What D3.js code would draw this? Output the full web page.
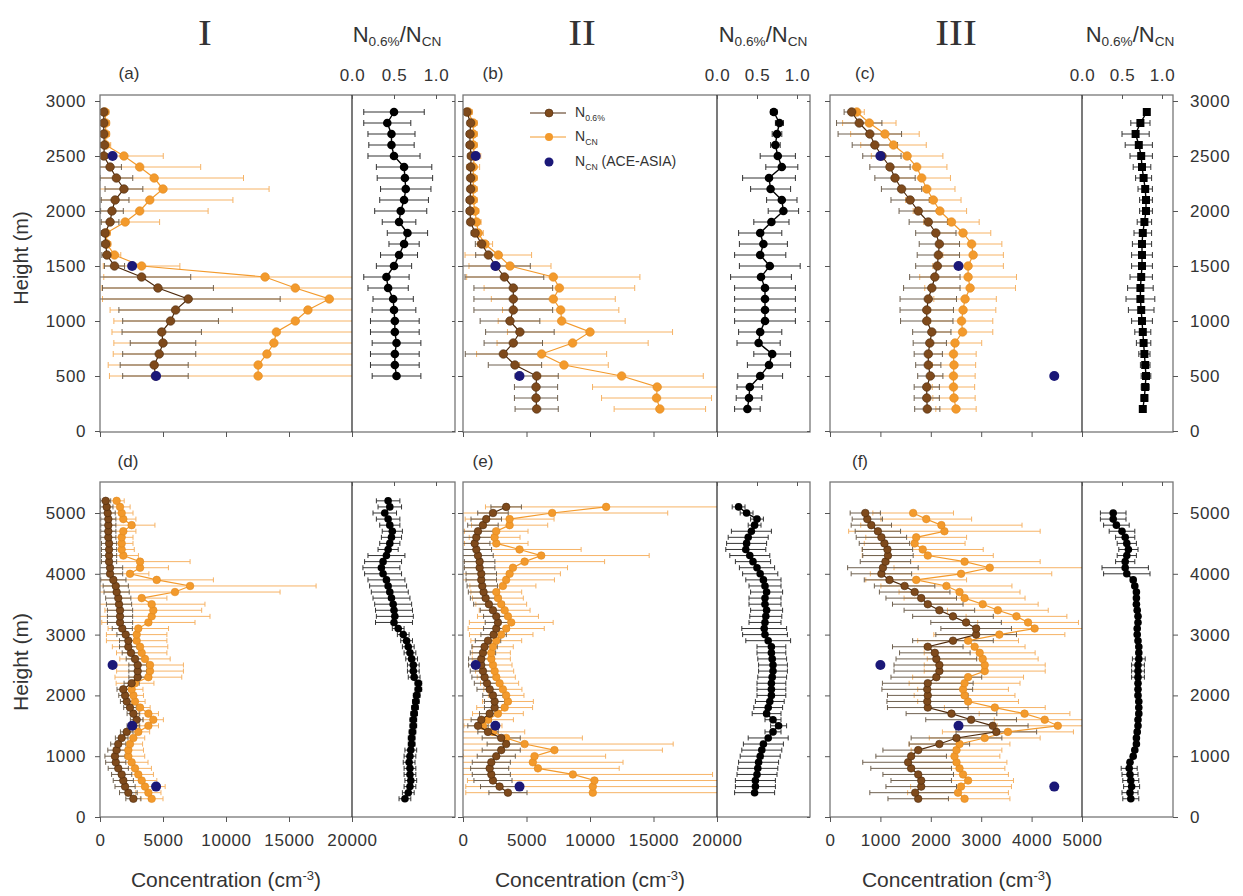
<!DOCTYPE html>
<html>
<head>
<meta charset="utf-8">
<script src="https://cdn.jsdelivr.net/npm/d3@7"></script>
<style>
body { margin: 0; background: #fff; }
svg text { font-family: "Liberation Sans", Arial, sans-serif; fill: #333; }
.tick text { font-size: 17px; letter-spacing: 0.6px; fill: #333; }
</style>
</head>
<body>
<div id="chart"></div>
<script>
// ---- datos (de abajo hacia arriba) ----
// ACE-ASIA (igual en todos los paneles)
const aceHeight = [500, 1500, 2500]
const aceNcn = [4450, 2550, 1000]

// (a)
const aHeight = [500,600,700,800,900,1000,1100,1200,1300,1400,1500,1600,1700,1800,1900,2000,2100,2200,2300,2400,2500,2600,2700,2800,2900]
const aN06 = [4400,4300,4700,5000,4900,5600,6000,7000,4600,3300,1150,550,450,400,800,950,1200,1900,1300,800,300,350,300,300,300]
const aN06Err = [2600,2700,2900,2600,3150,3800,4500,7300,4400,3900,800,400,300,300,700,900,1100,1500,1300,900,300,300,250,250,250]
const aNcn = [12550,12550,13250,13800,14000,15500,16500,18200,15500,13100,3300,1150,550,500,2000,3150,3950,5000,4300,3150,1900,450,450,450,400]
const aNcnErr = [11800,11900,12200,12700,13050,14400,15700,18000,15350,12800,3040,500,300,300,2730,5430,6600,8420,7090,4840,3120,400,300,300,300]
const aRatio = [0.53,0.51,0.51,0.53,0.51,0.51,0.50,0.49,0.43,0.41,0.50,0.56,0.62,0.66,0.56,0.58,0.62,0.64,0.63,0.62,0.50,0.47,0.47,0.42,0.50]
const aRatioErr = [0.29,0.29,0.29,0.29,0.29,0.29,0.26,0.24,0.24,0.27,0.21,0.22,0.18,0.24,0.20,0.31,0.29,0.30,0.33,0.33,0.31,0.27,0.28,0.28,0.36]

// (b)
const bHeight = [200,300,400,500,600,700,800,900,1000,1100,1200,1300,1400,1500,1600,1700,1800,1900,2000,2100,2200,2300,2400,2500,2600,2700,2800,2900]
const bN06 = [5800,5750,5750,5800,4090,3180,3960,4480,3700,3960,3960,3960,3260,2600,2000,1470,950,600,550,550,600,600,600,650,550,550,600,300]
const bN06Err = [1700,1700,1700,1700,2100,3000,2300,2700,2350,3100,3100,3100,3100,2700,1000,500,300,250,250,250,250,250,250,250,250,250,250,250]
const bNcn = [15500,15240,15290,12490,7950,6190,8630,10000,7770,7690,7110,7590,7110,3700,2780,1730,1200,1070,940,810,810,810,810,900,810,810,810,420]
const bNcnErr = [3600,4330,5090,6430,3490,5120,5950,6500,5000,4580,4880,5930,6820,3230,2620,600,400,350,300,300,300,300,500,500,300,300,300,300]
const bRatio = [0.38,0.40,0.41,0.54,0.65,0.69,0.52,0.54,0.60,0.60,0.60,0.60,0.55,0.66,0.54,0.58,0.54,0.68,0.83,0.81,0.67,0.65,0.81,0.76,0.73,0.75,0.78,0.71]
const bRatioErr = [0.16,0.16,0.16,0.28,0.27,0.23,0.27,0.27,0.38,0.38,0.38,0.38,0.38,0.38,0.32,0.30,0.27,0.22,0.19,0.19,0.25,0.33,0.20,0.22,0.06,0.06,0.05,0.04]

// (c)
const cHeight = [200,300,400,500,600,700,800,900,1000,1100,1200,1300,1400,1500,1600,1700,1800,1900,2000,2100,2200,2300,2400,2500,2600,2700,2800,2900]
const cN06 = [1930,1920,1920,1990,1950,1950,1980,2020,1920,1920,1950,2020,2080,2130,2150,2170,2100,1950,1750,1590,1420,1290,1190,1030,890,790,580,430]
const cN06Err = [250,250,250,250,250,280,330,380,520,530,560,560,500,430,420,400,400,380,380,380,400,400,400,380,450,630,450,150]
const cNcn = [2500,2460,2450,2450,2460,2450,2480,2630,2610,2640,2680,2780,2740,2740,2840,2810,2640,2410,2180,2050,1920,1820,1720,1530,1260,1090,780,530]
const cNcnErr = [400,420,420,430,430,450,530,600,620,650,620,900,960,700,600,600,550,550,530,550,560,570,600,710,650,680,530,150]
const cRatio = [0.76,0.78,0.79,0.80,0.79,0.78,0.77,0.76,0.75,0.74,0.73,0.73,0.74,0.75,0.75,0.75,0.76,0.78,0.80,0.80,0.79,0.77,0.75,0.74,0.71,0.67,0.73,0.81]
const cRatioErr = [0.03,0.04,0.05,0.06,0.06,0.07,0.09,0.10,0.13,0.16,0.18,0.16,0.14,0.13,0.13,0.12,0.11,0.09,0.08,0.08,0.09,0.10,0.11,0.14,0.17,0.17,0.12,0.02]

// (d)
const dHeight = [300,400,500,600,700,800,900,1000,1100,1200,1300,1400,1500,1600,1700,1800,1900,2000,2100,2200,2300,2400,2500,2600,2700,2800,2900,3000,3100,3200,3300,3400,3500,3600,3700,3800,3900,4000,4100,4200,4300,4400,4500,4600,4700,4800,4900,5000,5100,5200]
const dN06 = [2650,2250,1990,1850,1720,1450,1250,1190,1320,1450,1720,2120,2650,2910,2650,2380,2120,1990,1850,2510,2990,2990,2990,2780,2460,2250,2250,2040,1770,1590,1590,1590,1510,1450,1320,1250,1060,800,800,720,720,720,720,660,660,660,660,610,530,450]
const dN06Err = [600,700,800,800,800,800,800,800,700,600,500,500,500,500,500,500,500,500,500,600,700,700,700,700,700,700,700,700,800,1000,1000,1000,1000,1000,1000,1000,1000,1000,1000,600,600,600,600,600,600,600,600,600,500,400]
const dNcn = [4100,3840,3570,3310,3040,2780,2510,2250,2250,2380,2650,3040,3840,4230,3840,3180,2780,2650,2510,2780,3840,3970,3970,3570,3310,3180,2910,2910,3040,3840,4100,4230,4100,3310,5950,7150,4500,2380,3180,3180,1850,1720,1720,1720,1850,2510,1850,1720,1590,1320]
const dNcnErr = [900,1000,1600,1200,1200,1300,1300,1300,1200,1000,900,900,800,800,800,800,800,800,900,1500,2650,2650,2650,2000,2000,2200,2400,2400,2400,3700,4630,3840,4230,2000,8340,10000,4500,1500,2250,3970,1200,1000,900,900,1000,1850,1000,900,800,600]
const dRatio = [0.63,0.67,0.69,0.70,0.69,0.69,0.68,0.69,0.70,0.71,0.71,0.72,0.73,0.73,0.74,0.75,0.76,0.77,0.79,0.79,0.74,0.73,0.73,0.71,0.69,0.67,0.65,0.61,0.55,0.50,0.51,0.50,0.49,0.47,0.45,0.43,0.41,0.37,0.35,0.37,0.41,0.43,0.45,0.47,0.48,0.45,0.43,0.39,0.45,0.43]
const dRatioErr = [0.07,0.07,0.07,0.07,0.07,0.07,0.07,0.07,0.07,0.04,0.04,0.04,0.04,0.04,0.04,0.04,0.04,0.04,0.04,0.04,0.07,0.07,0.07,0.07,0.07,0.07,0.07,0.07,0.07,0.22,0.22,0.22,0.22,0.22,0.22,0.22,0.22,0.22,0.22,0.22,0.22,0.12,0.12,0.12,0.12,0.12,0.14,0.14,0.14,0.14]

// (e)
const eHeight = [400,500,600,700,800,900,1000,1100,1200,1300,1400,1500,1600,1700,1800,1900,2000,2100,2200,2300,2400,2500,2600,2700,2800,2900,3000,3100,3200,3300,3400,3500,3600,3700,3800,3900,4000,4100,4200,4300,4400,4500,4600,4700,4800,4900,5000,5100]
const eN06 = [3540,2880,2360,2230,2100,2230,2620,3010,3400,3010,1970,1180,1440,2100,2490,2490,2360,2100,1890,1700,1570,1440,1440,1570,1700,1970,2410,2620,2750,2620,2360,2040,1780,1620,1520,1440,1440,1310,1310,1180,1050,920,1050,1180,1570,1830,2360,3400]
const eN06Err = [1500,1500,1500,1500,1500,1500,1500,1500,1500,1500,800,800,800,800,800,800,800,1000,1000,1000,1000,1000,1000,1000,1000,1000,1000,1000,1000,1000,1000,1200,1200,1200,1200,1200,1200,1200,1200,1200,1200,1200,1200,1200,1200,1200,1200,1200]
const eNcn = [10220,10220,10350,8650,5900,5500,5630,7200,4850,3400,2360,1570,1970,2750,3280,3540,3400,3140,2880,2620,2490,2360,2230,2230,2360,2620,3010,3400,3800,3540,3280,3010,2750,2620,3140,3400,3670,3930,4850,6160,4450,2620,2490,2620,3670,3670,7020,11270]
const eNcnErr = [10000,10000,10000,11000,6400,7100,5600,8500,11700,6000,2500,1500,2000,2000,2200,2000,1400,1500,1500,1500,1500,1500,1500,1500,1600,2000,2500,3000,3300,2400,2000,2000,2000,2000,2600,3800,4000,4300,6300,8500,4850,2500,2000,2500,3000,3500,9100,9500]
const eRatio = [0.47,0.48,0.48,0.50,0.51,0.52,0.54,0.56,0.58,0.64,0.70,0.77,0.70,0.62,0.64,0.66,0.68,0.68,0.68,0.69,0.70,0.70,0.69,0.68,0.68,0.64,0.60,0.59,0.60,0.61,0.62,0.60,0.60,0.62,0.60,0.58,0.54,0.50,0.45,0.41,0.36,0.37,0.39,0.43,0.47,0.50,0.37,0.27]
const eRatioErr = [0.25,0.25,0.25,0.25,0.25,0.25,0.25,0.25,0.25,0.25,0.10,0.10,0.10,0.18,0.18,0.18,0.18,0.18,0.18,0.18,0.18,0.18,0.18,0.18,0.18,0.28,0.28,0.28,0.20,0.20,0.20,0.20,0.20,0.20,0.20,0.22,0.22,0.22,0.22,0.25,0.25,0.25,0.25,0.25,0.08,0.08,0.08,0.08]

// (f)
const fHeight = [300,400,500,600,700,800,900,1000,1100,1200,1300,1400,1500,1600,1700,1800,1900,2000,2100,2200,2300,2400,2500,2600,2700,2800,2900,3000,3100,3200,3300,3400,3500,3600,3700,3800,3900,4000,4100,4200,4300,4400,4500,4600,4700,4800,4900,5000]
const fN06 = [1750,1690,1810,1810,1750,1610,1550,1610,1750,2170,2510,3300,3230,2800,2410,1940,1930,1940,1930,1940,2110,2170,2170,2110,2080,1940,2440,2900,2900,2700,2440,2170,1940,1810,1680,1480,1180,1020,1050,1100,1150,1140,1080,1020,950,820,740,700]
const fN06Err = [600,900,700,600,700,800,900,700,700,600,900,800,700,900,900,800,800,800,900,900,900,900,900,800,700,700,800,800,700,700,800,700,700,700,700,600,500,600,700,500,500,500,500,500,450,400,300,300]
const fNcn = [2670,2540,2600,2740,2640,2570,2510,2470,2510,2570,3070,3530,4520,4260,3860,3270,2740,2670,2640,2670,2740,3070,3070,3030,2970,2870,2740,3360,4060,3930,3700,3330,3030,2670,2570,2310,1710,2600,3170,2670,1940,1840,1680,1710,2270,2210,1910,1650]
const fNcnErr = [900,1000,1000,900,900,900,1000,900,900,1000,1100,1300,1200,1000,900,1000,1000,1000,900,1100,1100,1200,1200,1100,1100,1000,1000,1300,1100,1000,1000,1000,1100,1200,1200,1300,1000,1800,1900,1500,1300,1200,1000,1000,1900,1600,900,800]
const fRatio = [0.61,0.60,0.62,0.61,0.60,0.59,0.60,0.64,0.66,0.68,0.68,0.69,0.70,0.70,0.71,0.71,0.71,0.70,0.70,0.70,0.70,0.70,0.70,0.71,0.71,0.71,0.70,0.69,0.69,0.70,0.70,0.69,0.68,0.68,0.68,0.66,0.64,0.56,0.54,0.54,0.56,0.58,0.56,0.54,0.50,0.43,0.39,0.39]
const fRatioErr = [0.10,0.10,0.10,0.10,0.10,0.10,0.03,0.03,0.03,0.03,0.03,0.03,0.03,0.03,0.03,0.03,0.03,0.03,0.03,0.03,0.08,0.08,0.08,0.08,0.03,0.03,0.03,0.03,0.03,0.03,0.03,0.03,0.03,0.03,0.03,0.03,0.03,0.29,0.29,0.12,0.12,0.12,0.12,0.12,0.16,0.16,0.16,0.16]

// ticks
const topHeightTicks = [0, 500, 1000, 1500, 2000, 2500, 3000]
const bottomHeightTicks = [0, 1000, 2000, 3000, 4000, 5000]
const concTicksWide = [0, 5000, 10000, 15000, 20000]
const concTicksNarrow = [0, 1000, 2000, 3000, 4000, 5000]
const ratioTicks = [0, 0.5, 1.0]

// ---- colores ----
const brown = "#7e4a1c"
const brownDark = "#4e2a0c"
const orange = "#f39a2c"
const orangeBar = "#f6b366"
const brownBar = "#6f6150"
const navy = "#1b1878"

// ---- geometría ----
const width = 1243
const height = 896

const rowGeo = {
    top: { frameTop: 95, frameBottom: 432, y: d3.scaleLinear().domain([0, 3000]).range([431, 101]), ticks: topHeightTicks, r: 4.3 },
    bottom: { frameTop: 482, frameBottom: 817, y: d3.scaleLinear().domain([0, 5000]).range([817, 513]), ticks: bottomHeightTicks, r: 3.8 }
}
const colGeo = [
    { x0: 100, xDiv: 352, x1: 455, concMax: 20000, concTicks: concTicksWide, ratioRange: [352, 436] },
    { x0: 463, xDiv: 717, x1: 810, concMax: 20000, concTicks: concTicksWide, ratioRange: [717, 797] },
    { x0: 830, xDiv: 1082, x1: 1173, concMax: 5000, concTicks: concTicksNarrow, ratioRange: [1082, 1162] }
]

const panels = [
    { id: "a", row: "top", col: 0, h: aHeight, n06: aN06, n06e: aN06Err, ncn: aNcn, ncne: aNcnErr, ratio: aRatio, ratioe: aRatioErr },
    { id: "b", row: "top", col: 1, h: bHeight, n06: bN06, n06e: bN06Err, ncn: bNcn, ncne: bNcnErr, ratio: bRatio, ratioe: bRatioErr },
    { id: "c", row: "top", col: 2, h: cHeight, n06: cN06, n06e: cN06Err, ncn: cNcn, ncne: cNcnErr, ratio: cRatio, ratioe: cRatioErr, square: true },
    { id: "d", row: "bottom", col: 0, h: dHeight, n06: dN06, n06e: dN06Err, ncn: dNcn, ncne: dNcnErr, ratio: dRatio, ratioe: dRatioErr },
    { id: "e", row: "bottom", col: 1, h: eHeight, n06: eN06, n06e: eN06Err, ncn: eNcn, ncne: eNcnErr, ratio: eRatio, ratioe: eRatioErr },
    { id: "f", row: "bottom", col: 2, h: fHeight, n06: fN06, n06e: fN06Err, ncn: fNcn, ncne: fNcnErr, ratio: fRatio, ratioe: fRatioErr }
]

const svg = d3.select("#chart")
    .append("svg")
    .attr("width", width)
    .attr("height", height)

const defs = svg.append("defs")
const intFormat = d3.format("d")

// barras de error horizontales con remates
function errorBars(g, data, xs, y, key, errKey, color, cap) {
    g.selectAll(null).data(data).join("line")
        .attr("x1", d => xs(d[key] - d[errKey]))
        .attr("x2", d => xs(d[key] + d[errKey]))
        .attr("y1", d => y(d.h)).attr("y2", d => y(d.h))
        .attr("stroke", color).attr("stroke-width", 1)
    g.selectAll(null).data(data.flatMap(d => [[d, -1], [d, 1]])).join("line")
        .attr("x1", ([d, s]) => xs(d[key] + s * d[errKey]))
        .attr("x2", ([d, s]) => xs(d[key] + s * d[errKey]))
        .attr("y1", ([d]) => y(d.h) - cap).attr("y2", ([d]) => y(d.h) + cap)
        .attr("stroke", color).attr("stroke-width", 1)
}

function drawPanel(p) {
    const row = rowGeo[p.row]
    const col = colGeo[p.col]
    const y = row.y
    const x = d3.scaleLinear().domain([0, col.concMax]).range([col.x0, col.xDiv])
    const r = d3.scaleLinear().domain([0, 1]).range(col.ratioRange)
    const data = p.h.map((h, i) => ({ h, n06: p.n06[i], n06e: p.n06e[i], ncn: p.ncn[i], ncne: p.ncne[i], ratio: p.ratio[i], ratioe: p.ratioe[i] }))
    const cap = p.row === "top" ? 3 : 2.5

    defs.append("clipPath").attr("id", "clipC" + p.id).append("rect")
        .attr("x", col.x0).attr("y", row.frameTop).attr("width", col.xDiv - col.x0).attr("height", row.frameBottom - row.frameTop)
    defs.append("clipPath").attr("id", "clipR" + p.id).append("rect")
        .attr("x", col.xDiv).attr("y", row.frameTop).attr("width", col.x1 - col.xDiv).attr("height", row.frameBottom - row.frameTop)

    // concentración
    const gc = svg.append("g").attr("clip-path", `url(#clipC${p.id})`)
    errorBars(gc.append("g"), data, x, y, "ncn", "ncne", orangeBar, cap)
    errorBars(gc.append("g"), data, x, y, "n06", "n06e", brownBar, cap)

    gc.append("path").datum(data)
        .attr("fill", "none").attr("stroke", orange).attr("stroke-width", 1.2)
        .attr("d", d3.line().x(d => x(d.ncn)).y(d => y(d.h)))
    gc.selectAll(null).data(data).join("circle")
        .attr("cx", d => x(d.ncn)).attr("cy", d => y(d.h)).attr("r", row.r)
        .attr("fill", orange).attr("stroke", "#e08a20").attr("stroke-width", 0.6)

    gc.append("path").datum(data)
        .attr("fill", "none").attr("stroke", brownDark).attr("stroke-width", 1.2)
        .attr("d", d3.line().x(d => x(d.n06)).y(d => y(d.h)))
    gc.selectAll(null).data(data).join("circle")
        .attr("cx", d => x(d.n06)).attr("cy", d => y(d.h)).attr("r", row.r)
        .attr("fill", brown).attr("stroke", brownDark).attr("stroke-width", 0.6)

    gc.selectAll(null).data(aceHeight.filter(h => h <= y.domain()[1])).join("circle")
        .attr("cx", (h, i) => x(aceNcn[i])).attr("cy", h => y(h)).attr("r", 5)
        .attr("fill", navy)

    // cociente
    const gr = svg.append("g").attr("clip-path", `url(#clipR${p.id})`)
    errorBars(gr.append("g"), data, r, y, "ratio", "ratioe", "#333", cap)
    gr.append("path").datum(data)
        .attr("fill", "none").attr("stroke", "#000").attr("stroke-width", 1.4)
        .attr("d", d3.line().x(d => r(d.ratio)).y(d => y(d.h)))
    if (p.square) {
        gr.selectAll(null).data(data).join("rect")
            .attr("x", d => r(d.ratio) - 4).attr("y", d => y(d.h) - 4)
            .attr("width", 8).attr("height", 8).attr("fill", "#000")
    } else {
        gr.selectAll(null).data(data).join("circle")
            .attr("cx", d => r(d.ratio)).attr("cy", d => y(d.h)).attr("r", row.r)
            .attr("fill", "#000")
    }

    // marco
    svg.append("rect")
        .attr("x", col.x0).attr("y", row.frameTop)
        .attr("width", col.x1 - col.x0).attr("height", row.frameBottom - row.frameTop)
        .attr("fill", "none").attr("stroke", "#777").attr("stroke-width", 1.3)
    svg.append("line")
        .attr("x1", col.xDiv).attr("x2", col.xDiv).attr("y1", row.frameTop).attr("y2", row.frameBottom)
        .attr("stroke", "#222").attr("stroke-width", 1.2)

    // ejes
    const leftAxis = d3.axisLeft(y).tickValues(row.ticks).tickSize(5).tickPadding(9)
        .tickFormat(p.col === 0 ? intFormat : "")
    const la = svg.append("g").attr("transform", `translate(${col.x0},0)`).call(leftAxis)

    const bottomAxis = d3.axisBottom(x).tickValues(col.concTicks).tickSize(5).tickPadding(12)
        .tickFormat(p.row === "bottom" ? intFormat : "")
    const ba = svg.append("g").attr("transform", `translate(0,${row.frameBottom})`).call(bottomAxis)

    const topAxis = d3.axisTop(r).tickValues(ratioTicks).tickSizeInner(-4).tickSizeOuter(0).tickPadding(14)
        .tickFormat(p.row === "top" ? d3.format(".1f") : "")
    const ta = svg.append("g").attr("transform", `translate(0,${row.frameTop})`).call(topAxis)

    let ra
    if (p.col === 2) {
        ra = svg.append("g").attr("transform", `translate(${col.x1},0)`)
            .call(d3.axisRight(y).tickValues(row.ticks).tickSize(5).tickPadding(12).tickFormat(intFormat))
    } else {
        ra = svg.append("g").attr("transform", `translate(${col.x1},0)`)
            .call(d3.axisRight(y).tickValues(row.ticks).tickSize(-3).tickFormat(""))
    }
    for (const a of [la, ba, ta, ra]) {
        a.select(".domain").remove()
        a.selectAll(".tick line").attr("stroke", "#555")
    }
}

panels.forEach(drawPanel)

// ---- textos ----
function addLabel(x, y, parts, size, anchor = "middle") {
    const t = svg.append("text").attr("x", x).attr("y", y)
        .attr("font-size", size).attr("text-anchor", anchor)
    let shift = 0
    for (const [txt, kind] of parts) {
        const target = kind === "sub" ? 4 : kind === "sup" ? -7 : 0
        t.append("tspan").attr("dy", target - shift)
            .attr("font-size", kind ? size * 0.62 : size)
            .text(txt)
        shift = target
    }
    return t
}

// numerales romanos
const romans = [["I", 205], ["II", 582], ["III", 956]]
romans.forEach(([txt, cx]) => {
    svg.append("text").attr("x", cx).attr("y", 45)
        .attr("text-anchor", "middle")
        .style("font-family", "'Liberation Serif', 'Times New Roman', serif")
        .attr("font-size", 36).attr("fill", "#222")
        .attr("transform", `translate(${cx},0) scale(1.15,1) translate(${-cx},0)`)
        .text(txt)
})

// títulos del cociente
const ratioTitleX = [397, 763, 1130]
ratioTitleX.forEach(cx => {
    addLabel(cx, 42, [["N"], ["0.6%", "sub"], ["/N"], ["CN", "sub"]], 22)
})

// letras de panel
const letters = [["(a)", 129, 79], ["(b)", 493, 79], ["(c)", 865, 79], ["(d)", 128, 467], ["(e)", 483, 467], ["(f)", 860, 467]]
letters.forEach(([txt, cx, cy]) => {
    svg.append("text").attr("x", cx).attr("y", cy).attr("text-anchor", "middle")
        .attr("font-size", 17).attr("fill", "#333").text(txt)
})

// ejes: títulos
svg.append("text").attr("transform", "translate(28,258) rotate(-90)")
    .attr("text-anchor", "middle").attr("font-size", 20).text("Height (m)")
svg.append("text").attr("transform", "translate(28,662) rotate(-90)")
    .attr("text-anchor", "middle").attr("font-size", 21).text("Height (m)")

const concLabelX = [226, 590, 957]
concLabelX.forEach(cx => {
    addLabel(cx, 887, [["Concentration (cm"], ["-3", "sup"], [")"]], 21)
})

// leyenda (panel b)
const legendY = [113, 137, 162]
svg.append("line").attr("x1", 530).attr("x2", 566).attr("y1", legendY[0]).attr("y2", legendY[0]).attr("stroke", brownDark)
svg.append("circle").attr("cx", 549).attr("cy", legendY[0]).attr("r", 4).attr("fill", brown).attr("stroke", brownDark).attr("stroke-width", 0.6)
svg.append("line").attr("x1", 530).attr("x2", 566).attr("y1", legendY[1]).attr("y2", legendY[1]).attr("stroke", orange)
svg.append("circle").attr("cx", 549).attr("cy", legendY[1]).attr("r", 4).attr("fill", orange)
svg.append("circle").attr("cx", 549).attr("cy", legendY[2]).attr("r", 4.5).attr("fill", navy)
addLabel(575, legendY[0] + 4, [["N"], ["0.6%", "sub"]], 14, "start")
addLabel(575, legendY[1] + 4, [["N"], ["CN", "sub"]], 14, "start")
addLabel(575, legendY[2] + 4, [["N"], ["CN", "sub"], [" (ACE-ASIA)"]], 14, "start")
</script>
</body>
</html>
